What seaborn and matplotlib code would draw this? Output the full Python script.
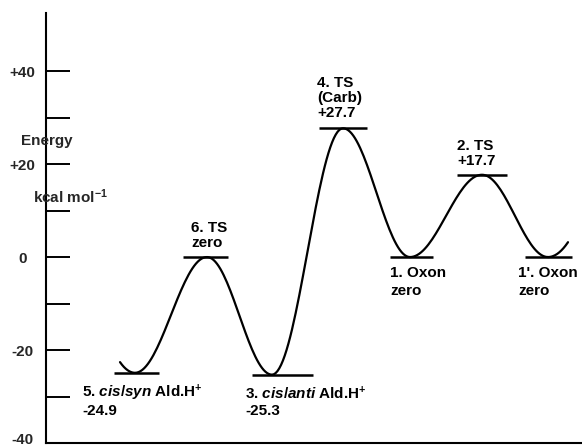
import numpy as np
import pandas as pd
import matplotlib
matplotlib.use("Agg")
import matplotlib.pyplot as plt
from matplotlib.transforms import ScaledTranslation
import seaborn as sns

# Stationary points along the reaction path (energies in kcal/mol)
species = ["5. $\\mathit{cis/syn}$ Ald.H$^{+}$", "6. TS", "3. $\\mathit{cis/anti}$ Ald.H$^{+}$",
           "4. TS\n(Carb)", "1. Oxon", "2. TS", "1'. Oxon"]
energies = [-24.9, 0.0, -25.3, 27.7, 0.0, 17.7, 0.0]
coord = [89, 161, 226, 297, 364, 436, 502]          # reaction coordinate of each point
path_start = (74, -22.6)                            # curve tail before point 5
path_end = (522, 3.2)                               # curve tail after point 1'

yticks = [-40, -30, -20, -10, 0, 10, 20, 30, 40]
ytick_labels = ["-40", "", "-20", "", "0", "", "+20", "", "+40"]

# Level bar extents and label anchors (x left, y of first line)
bar_lo = [68, 137, 206, 273, 344, 411, 479]
bar_hi = [113, 182, 267, 321, 387, 461, 526]
label_pos = [(36, -29.3, "below"), (145, 6.35, "above"), (199, -29.3, "below"),
             (271, 37.4, "above"), (344, -3.4, "below"), (411, 23.9, "above"),
             (472, -3.4, "below")]

sns.set_theme(style="white")
plt.rcParams["font.family"] = ["Liberation Sans", "DejaVu Sans"]
plt.rcParams["font.weight"] = "bold"
plt.rcParams["mathtext.fontset"] = "custom"
plt.rcParams["mathtext.rm"] = "Liberation Sans:bold"
plt.rcParams["mathtext.it"] = "Liberation Sans:italic:bold"
plt.rcParams["mathtext.bf"] = "Liberation Sans:bold"

fig = plt.figure(figsize=(5.82, 4.46), dpi=100)
ax = fig.add_axes([46 / 582, 3 / 446, 536 / 582, 430 / 446])

# Smooth energy profile: half-cosine between neighbouring extrema,
# parabolic tails at both ends.
xs, ys = [], []
t = np.linspace(0, 1, 40)
x0, e0 = path_start
xs.append(x0 + (coord[0] - x0) * t)
ys.append(energies[0] + (e0 - energies[0]) * (1 - t) ** 2)
for i in range(len(coord) - 1):
    xa, xb = coord[i], coord[i + 1]
    ea, eb = energies[i], energies[i + 1]
    xs.append(xa + (xb - xa) * t[1:])
    ys.append(ea + (eb - ea) * (1 - np.cos(np.pi * t[1:])) / 2)
x1, e1 = path_end
xs.append(coord[-1] + (x1 - coord[-1]) * t[1:])
ys.append(energies[-1] + (e1 - energies[-1]) * t[1:] ** 2)
profile = pd.DataFrame({"x": np.concatenate(xs), "E": np.concatenate(ys)})

sns.lineplot(data=profile, x="x", y="E", ax=ax, color="black", lw=1.6,
             sort=False, estimator=None)

# Level bars at each stationary point
ax.hlines(energies, bar_lo, bar_hi, color="black", lw=1.8)

# Labels: name plus energy ("zero" for the reference level)
for name, e, (lx, ly, side) in zip(species, energies, label_pos):
    if e == 0:
        val = "zero"
    elif e < 0:
        val = f"{e:.1f}"
    else:
        val = f"{e:+.1f}"
    lines = name.split("\n") + [val]
    for k, line in enumerate(lines):
        dy = -3.25 * k if side == "above" else -3.9 * k
        ax.text(lx, ly + dy, line, ha="left", va="center", fontsize=11,
                fontweight="bold", color="black")

# Axis title pieces
ax.text(1, 25.0, "Energy", ha="center", va="center", fontsize=11, fontweight="bold")
ax.text(-13, 12.9, "kcal mol$^{-1}$", ha="left", va="center", fontsize=11,
        fontweight="bold")

ax.set_xlim(0, 536)
ax.set_ylim(-40, 52.5)
ax.set_xticks([])
ax.set_yticks(yticks)
ax.set_yticklabels(ytick_labels, ha="center", fontsize=11, fontweight="bold")
ax.tick_params(axis="y", direction="in", length=17.3, width=1.4, color="black",
               pad=17, left=True)
# lift the bottom label so it stays inside the canvas
low = ax.yaxis.get_major_ticks()[0].label1
low.set_transform(low.get_transform() + ScaledTranslation(0, 0.05, fig.dpi_scale_trans))

ax.set_xlabel("")
ax.set_ylabel("")
for s in ["top", "right"]:
    ax.spines[s].set_visible(False)
for s in ["left", "bottom"]:
    ax.spines[s].set_color("black")
    ax.spines[s].set_linewidth(1.5)

fig.savefig("out.png", dpi=100)
